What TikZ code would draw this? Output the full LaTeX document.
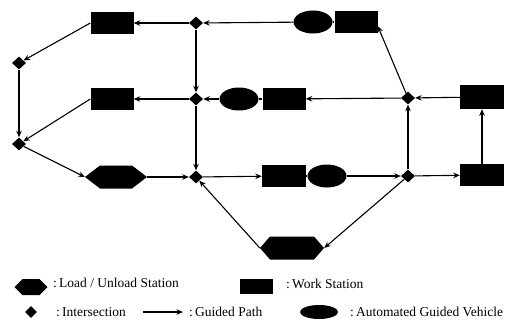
\documentclass[tikz,border=0pt]{standalone}
\usepackage{fontspec}
\setmainfont{Liberation Serif}
\usetikzlibrary{shapes.geometric,arrows.meta,calc}
\tikzset{
  ws/.style={rectangle, fill=black, minimum width=43pt, minimum height=22pt, inner sep=0pt},
  agv/.style={ellipse, fill=black, minimum width=39pt, minimum height=23pt, inner sep=0pt},
  isec/.style={diamond, fill=black, minimum width=14pt, minimum height=13pt, inner sep=0pt},
  hexa/.style n args={3}{rectangle, minimum width=#1, minimum height=#2, inner sep=0pt,
    path picture={\fill (path picture bounding box.west)
      -- ([xshift=#3]path picture bounding box.north west)
      -- ([xshift=-#3]path picture bounding box.north east)
      -- (path picture bounding box.east)
      -- ([xshift=-#3]path picture bounding box.south east)
      -- ([xshift=#3]path picture bounding box.south west) -- cycle;}},
  gp/.style={draw, line width=1.1pt, -{Stealth[length=6.5pt,width=5.5pt]}},
  ln/.style={draw, line width=1.1pt},
  lbl/.style={anchor=west, inner sep=0pt, font=\fontsize{13.5}{16}\selectfont}
}
\begin{document}
\begin{tikzpicture}[x=1pt,y=-1pt]
\useasboundingbox (0,0) rectangle (510,329);
% intersections
\node[isec] (i1) at (19,63) {};
\node[isec] (i2) at (19,144) {};
\node[isec] (i3) at (196,23) {};
\node[isec] (i4) at (196,99) {};
\node[isec] (i5) at (196,177) {};
\node[isec] (i6) at (408,98) {};
\node[isec] (i7) at (408,176) {};
% work stations
\node[ws] (w1) at (112,23) {};
\node[ws] (w2) at (112,99) {};
\node[ws] (w3) at (356,22) {};
\node[ws] (w4) at (284,99) {};
\node[ws, minimum width=44pt, minimum height=24pt] (w5) at (482,97) {};
\node[ws, minimum width=44pt] (w6) at (284,176) {};
\node[ws, minimum width=44pt] (w7) at (482,175) {};
% vehicles
\node[agv] (e1) at (313,22) {};
\node[agv] (e2) at (239,99) {};
\node[agv] (e3) at (327,176) {};
% load/unload stations
\node[hexa={62pt}{23pt}{15pt}] (h1) at (116,177) {};
\node[hexa={64pt}{23pt}{10pt}] (h2) at (292,248) {};
% guided paths
\path[gp] (e1) -- (i3);
\path[gp] (i3) -- (w1);
\path[gp] (w1.west) -- (i1);
\path[gp] (i1) -- (i2);
\path[gp] (w2.west) -- (i2);
\path[gp] (i2) -- (h1.west);
\path[gp] (h1.east) -- (i5);
\path[gp] (i3) -- (i4);
\path[gp] (i4) -- (w2);
\path[gp] (e2) -- (i4);
\path[ln] (e2) -- (w4);
\path[gp] (i4) -- (i5);
\path[gp] (i5) -- (w6);
\path[ln] (w6) -- (e3);
\path[ln] (e1) -- (w3);
\path[gp] (e3) -- (i7);
\path[gp] (i7) -- (w7);
\path[gp] (w7) -- (w5);
\path[gp] (w5) -- (i6);
\path[gp] (i6) -- (w4);
\path[gp] (i7) -- (i6);
\path[gp] (i6) -- ($(w3.east)+(0,4)$);
\path[gp] (i7) -- (h2.east);
\path[gp] (h2.west) -- (i5);
% legend
\node[hexa={33pt}{16pt}{8pt}] (lh) at (31,287) {};
\node[lbl] (tl) at (53,283) {:\,Load / Unload Station};
\node[ws, minimum width=33pt, minimum height=15pt] (lw) at (256,286) {};
\node[lbl] (tw) at (286,284) {:\,Work Station};
\node[isec, minimum width=12pt, minimum height=12pt] (ld) at (31,312) {};
\node[lbl] (ti) at (56,312) {:\,Intersection};
\coordinate (la1) at (143,312);
\coordinate (la2) at (183,312);
\path[gp] (la1) -- (la2);
\node[lbl] (tg) at (189,312) {:\,Guided Path};
\node[agv, minimum width=38pt, minimum height=14pt] (le) at (319,312) {};
\node[lbl] (ta) at (350,312) {:\,Automated Guided Vehicle};
\end{tikzpicture}
\end{document}
